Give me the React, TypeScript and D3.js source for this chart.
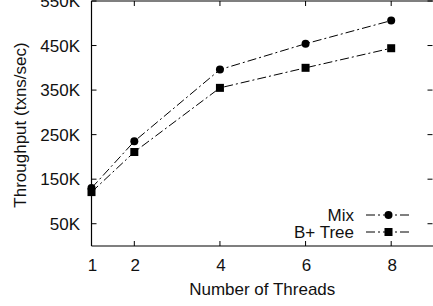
import React from "react";
import * as d3 from "d3";

// thread counts on the x axis
const threads = [1, 2, 4, 6, 8];
// throughput in txns/sec
const mixValues = [130000, 235000, 396000, 454000, 506000];
const btreeValues = [121000, 211000, 355000, 400000, 444000];
const yTicks = [50000, 150000, 250000, 350000, 450000, 550000];
const seriesNames = ["Mix", "B+ Tree"];

const W = 433;
const H = 306;
const margin = { top: 1, right: -1, bottom: 60, left: 91.5 };
const FONT = "'Liberation Sans', Arial, sans-serif";
const DASH = "9,3,2,3";

function App() {
  const x = d3
    .scaleLinear()
    .domain([1, 9])
    .range([margin.left, W - margin.right]);
  const y = d3
    .scaleLinear()
    .domain([0, 550000])
    .range([H - margin.bottom, margin.top]);

  const line = d3
    .line<number>()
    .x((_, i) => x(threads[i]))
    .y((d) => y(d));

  const fmt = (v: number) => `${v / 1000}K`;
  const x0 = x.range()[0];
  const x1 = x.range()[1];
  const y0 = y.range()[0];
  const y1 = y.range()[1];
  const tick = 5;
  // right-hand ticks sit just inside the visible edge
  const xr = W - 0.5;

  const legendRows = [
    { name: seriesNames[0], marker: "circle", y: 215 },
    { name: seriesNames[1], marker: "square", y: 232 },
  ];

  const marker = (kind: string, cx: number, cy: number, key: any) =>
    kind === "circle" ? (
      <circle key={key} cx={cx} cy={cy} r={4} fill="#000" />
    ) : (
      <rect key={key} x={cx - 4} y={cy - 4} width={8} height={8} fill="#000" />
    );

  return (
    <svg
      width={W}
      height={H}
      style={{ position: "absolute", left: 0, top: 0, background: "#fff" }}
      fontFamily={FONT}
      fontSize={17}
    >
      <rect width={W} height={H} fill="#fff" />

      {/* frame (right side falls just past the picture edge) */}
      <g stroke="#000" strokeWidth={1.2} fill="none">
        <line x1={x0} x2={x1} y1={y1} y2={y1} />
        <line x1={x0} x2={x1} y1={y0} y2={y0} />
        <line x1={x0} x2={x0} y1={y1} y2={y0} />
        <line x1={x1} x2={x1} y1={y1} y2={y0} />
      </g>

      {/* y ticks */}
      {yTicks.map((t) => (
        <g key={t}>
          <line x1={x0} x2={x0 + tick} y1={y(t)} y2={y(t)} stroke="#000" />
          <line x1={xr - tick} x2={xr} y1={y(t)} y2={y(t)} stroke="#000" />
          <text x={80} y={y(t) + 6} textAnchor="end" fill="#111">
            {fmt(t)}
          </text>
        </g>
      ))}

      {/* x ticks */}
      {threads.map((t) => (
        <g key={t}>
          <line x1={x(t)} x2={x(t)} y1={y0} y2={y0 - tick} stroke="#000" />
          <line x1={x(t)} x2={x(t)} y1={y1} y2={y1 + tick} stroke="#000" />
          <text x={x(t) + 1} y={271} textAnchor="middle" fill="#111">
            {t}
          </text>
        </g>
      ))}

      {/* axis titles */}
      <text x={(x0 + W) / 2} y={295} textAnchor="middle" fill="#111">
        Number of Threads
      </text>
      <text
        transform={`translate(26,125) rotate(-90)`}
        textAnchor="middle"
        fill="#111"
      >
        Throughput (txns/sec)
      </text>

      {/* series */}
      <path d={line(mixValues) || ""} fill="none" stroke="#000" strokeWidth={1} strokeDasharray={DASH} />
      <path d={line(btreeValues) || ""} fill="none" stroke="#000" strokeWidth={1} strokeDasharray={DASH} />
      {mixValues.map((v, i) => marker("circle", x(threads[i]), y(v), "m" + i))}
      {btreeValues.map((v, i) => marker("square", x(threads[i]), y(v), "b" + i))}

      {/* legend */}
      {legendRows.map((r) => (
        <g key={r.name}>
          <text x={354} y={r.y + 6} textAnchor="end" fill="#111">
            {r.name}
          </text>
          <line x1={366} x2={410} y1={r.y} y2={r.y} stroke="#000" strokeDasharray={DASH} />
          {marker(r.marker, 388.5, r.y, "l")}
        </g>
      ))}
    </svg>
  );
}

export default App;
